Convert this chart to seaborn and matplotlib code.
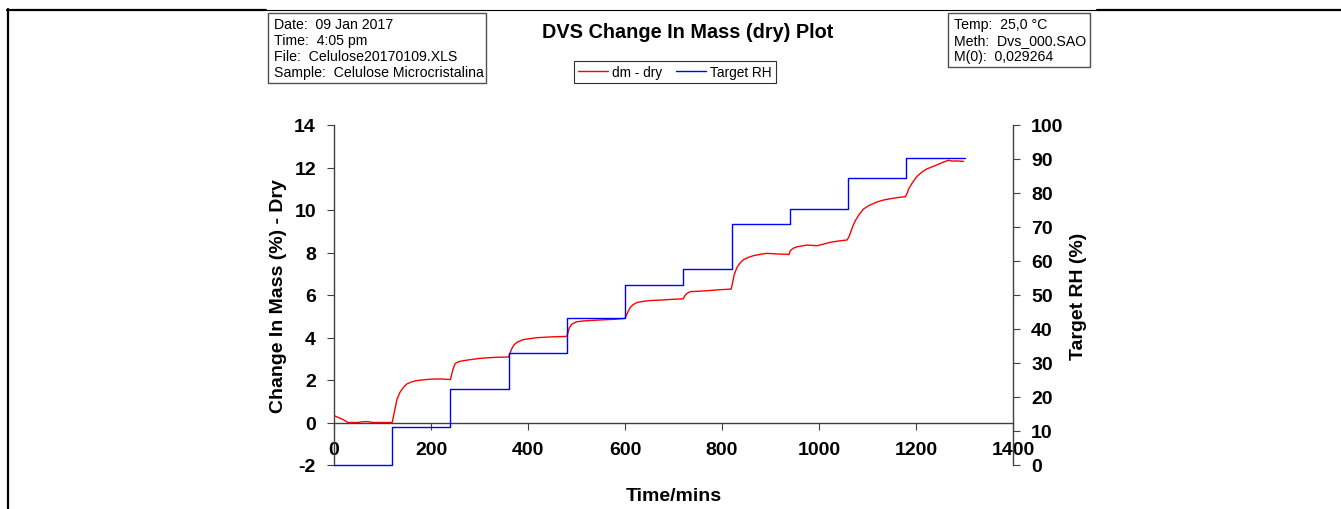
import matplotlib
matplotlib.use("Agg")
import matplotlib.pyplot as plt
import seaborn as sns
import numpy as np
from matplotlib.lines import Line2D
from matplotlib.patches import Rectangle

# dm - dry (%) vs time (min)
time_min = [0, 12, 20, 29, 50, 60, 70, 80, 100, 120,
            124, 130, 136, 143, 150, 160, 170, 185, 200, 220, 240,
            243, 246, 250, 258, 267, 285, 301, 335, 360,
            362, 366, 371, 377, 390, 405, 418, 440, 460, 480,
            482, 485, 490, 500, 515, 528, 545, 562, 580, 600,
            603, 607, 611, 617, 625, 640, 652, 680, 700, 720,
            723, 728, 735, 762, 790, 819,
            822, 825, 831, 837, 844, 855, 865, 880, 893, 913, 932, 938,
            941, 947, 955, 975, 990, 996, 1010, 1023, 1040, 1058,
            1062, 1066, 1070, 1075, 1083, 1092, 1100, 1106, 1120, 1133, 1147, 1161, 1178,
            1182, 1185, 1193, 1202, 1212, 1222, 1233, 1243, 1255, 1267, 1275, 1285, 1298]
dm_dry = [0.32, 0.21, 0.12, 0.0, 0.0, 0.04, 0.04, 0.0, 0.0, 0.0,
          0.45, 1.1, 1.42, 1.65, 1.81, 1.91, 1.97, 2.01, 2.04, 2.05, 2.02,
          2.3, 2.55, 2.78, 2.87, 2.91, 2.97, 3.02, 3.07, 3.08,
          3.2, 3.45, 3.65, 3.77, 3.9, 3.95, 3.99, 4.02, 4.04, 4.05,
          4.2, 4.45, 4.62, 4.74, 4.78, 4.8, 4.82, 4.84, 4.86, 4.9,
          5.05, 5.25, 5.42, 5.55, 5.65, 5.71, 5.74, 5.77, 5.80, 5.82,
          5.95, 6.08, 6.16, 6.19, 6.24, 6.28,
          6.6, 6.95, 7.3, 7.5, 7.66, 7.78, 7.85, 7.92, 7.96, 7.93, 7.92, 7.9,
          8.09, 8.2, 8.27, 8.35, 8.33, 8.32, 8.4, 8.48, 8.54, 8.59,
          8.75, 9.0, 9.25, 9.5, 9.8, 10.05, 10.17, 10.24, 10.38, 10.47, 10.53, 10.58, 10.63,
          10.8, 11.0, 11.3, 11.58, 11.78, 11.93, 12.03, 12.12, 12.24, 12.34, 12.3, 12.31, 12.29]

# target RH steps
step_time = [0, 120, 240, 360, 480, 600, 720, 820, 940, 1060, 1180, 1300]
target_rh = [0, 11.3, 22.5, 32.8, 43.2, 52.9, 57.6, 70.9, 75.3, 84.3, 90.2, 90.2]

info_left = ["Date:  09 Jan 2017", "Time:  4:05 pm",
             "File:  Celulose20170109.XLS", "Sample:  Celulose Microcristalina"]
info_right = ["Temp:  25,0 \u00b0C", "Meth:  Dvs_000.SAO", "M(0):  0,029264"]

sns.set_theme(style="ticks")
plt.rcParams['font.family'] = ['Liberation Sans', 'DejaVu Sans']
plt.rcParams['axes.unicode_minus'] = False
plt.rcParams['text.color'] = 'black'
plt.rcParams['axes.labelcolor'] = 'black'
plt.rcParams['xtick.color'] = 'black'
plt.rcParams['ytick.color'] = 'black'

W, H = 1341, 510
fig = plt.figure(figsize=(W / 100, H / 100), dpi=100)
ax = fig.add_axes([334 / W, 1 - 466 / H, (1013 - 334) / W, (466 - 126) / H])
ax2 = ax.twinx()

sns.lineplot(x=time_min, y=dm_dry, ax=ax, color='#ff0000', lw=1.0,
             estimator=None, sort=False, label='dm - dry')
sns.lineplot(x=step_time, y=target_rh, ax=ax2, color='#0000ff', lw=1.0,
             estimator=None, sort=False, drawstyle='steps-post',
             label='Target RH', clip_on=False)
for a in (ax, ax2):
    if a.get_legend() is not None:
        a.get_legend().remove()

spine_col = '#404040'
ax.set_xlim(0, 1400)
ax.set_ylim(-2, 14)
ax2.set_ylim(0, 100)
ax.set_xticks(np.arange(0, 1401, 200))
ax.set_yticks(np.arange(-2, 15, 2))
ax2.set_yticks(np.arange(0, 101, 10))

ax.spines['top'].set_visible(False)
ax.spines['right'].set_visible(False)
ax.spines['bottom'].set_position(('data', 0))
ax2.spines['top'].set_visible(False)
ax2.spines['left'].set_visible(False)
ax2.spines['bottom'].set_visible(False)
for s in (ax.spines['left'], ax.spines['bottom'], ax2.spines['right']):
    s.set_color(spine_col)
    s.set_linewidth(1.0)

ax.tick_params(axis='both', direction='out', length=5, width=0.8, color=spine_col,
               labelcolor='black', labelsize=14, pad=8)
ax2.tick_params(axis='y', direction='out', length=5, width=0.8, color=spine_col,
                labelcolor='black', labelsize=14, pad=8)
for lab in ax.get_xticklabels() + ax.get_yticklabels() + ax2.get_yticklabels():
    lab.set_fontweight('bold')

ax.set_ylabel("Change In Mass (%) - Dry", fontsize=14, fontweight='bold', labelpad=5)
ax2.set_ylabel("Target RH (%)", fontsize=14, fontweight='bold', labelpad=5)
ax.set_xlabel("Time/mins", fontsize=14, fontweight='bold')
ax.xaxis.set_label_coords(0.5, -0.065)

fig.text(688 / W, 1 - 33 / H, "DVS Change In Mass (dry) Plot", ha='center', va='center',
         fontsize=14.3, fontweight='bold')

# info boxes
fig.add_artist(Rectangle((268 / W, 1 - 84 / H), (486 - 268) / W, 70 / H,
                         transform=fig.transFigure, fill=False, ec='#505050', lw=1))
for i, s in enumerate(info_left):
    fig.text(274 / W, 1 - (25 + 16 * i) / H, s, ha='left', va='center', fontsize=10.2)
fig.add_artist(Rectangle((948 / W, 1 - 68 / H), (1090 - 948) / W, 54 / H,
                         transform=fig.transFigure, fill=False, ec='#505050', lw=1))
for i, s in enumerate(info_right):
    fig.text(954 / W, 1 - (25 + 16 * i) / H, s, ha='left', va='center', fontsize=10.2)

# legend
h1 = ax.get_lines()[0]
h2 = ax2.get_lines()[0]
leg = fig.legend([h1, h2], ['dm - dry', 'Target RH'], loc='center',
                 bbox_to_anchor=(675 / W, 1 - 73 / H), ncol=2, fontsize=9.8,
                 fancybox=False, framealpha=1, edgecolor='#303030',
                 handlelength=2.2, handletextpad=0.3, columnspacing=1.0,
                 borderpad=0.3)
leg.get_frame().set_linewidth(0.8)

# page frame lines
fig.add_artist(Line2D([7 / W, 266 / W], [1 - 10.5 / H] * 2, color='black', lw=1.6,
                      transform=fig.transFigure))
fig.add_artist(Line2D([266 / W, 1097 / W], [1 - 10.5 / H] * 2, color='black', lw=0.8,
                      transform=fig.transFigure))
fig.add_artist(Line2D([1097 / W, 1], [1 - 10.5 / H] * 2, color='black', lw=1.6,
                      transform=fig.transFigure))
fig.add_artist(Line2D([7.5 / W, 7.5 / W], [0, 1 - 10 / H], color='black', lw=1.6,
                      transform=fig.transFigure))

fig.savefig("out.png", dpi=100)
